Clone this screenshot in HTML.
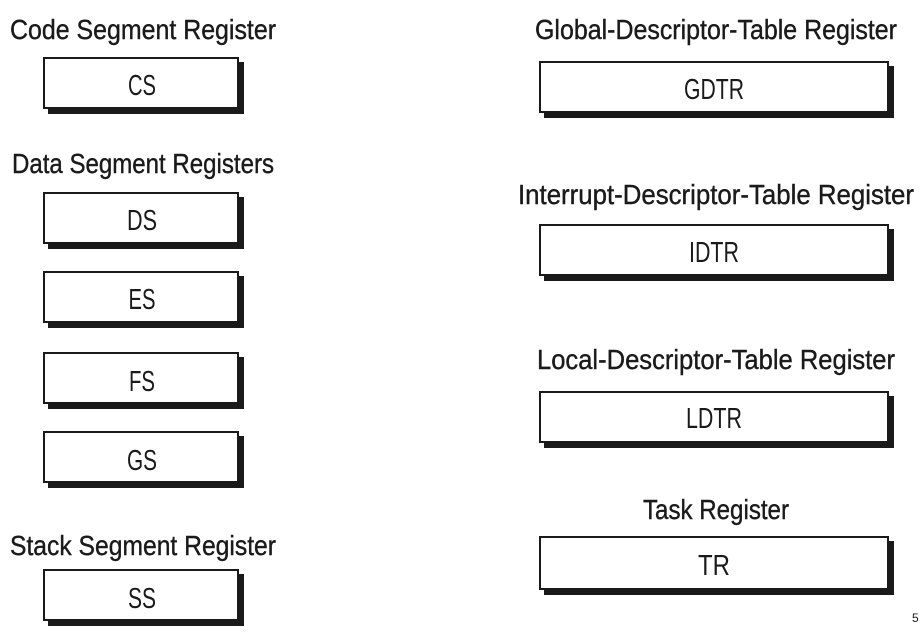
<!DOCTYPE html>
<html><head><style>body{margin:0;background:#fff}svg{display:block}</style></head><body>
<svg width="921" height="638" xmlns="http://www.w3.org/2000/svg" font-family="'Liberation Sans Narrow','Liberation Sans',sans-serif" fill="#1a1a1a">
<g font-size="28" text-anchor="middle" stroke="#1a1a1a" stroke-width="0.4">
<text x="143" y="39" textLength="266" lengthAdjust="spacingAndGlyphs">Code Segment Register</text>
<text x="143" y="173" textLength="262" lengthAdjust="spacingAndGlyphs">Data Segment Registers</text>
<text x="143" y="555" textLength="266" lengthAdjust="spacingAndGlyphs">Stack Segment Register</text>
<text x="716" y="39" textLength="362" lengthAdjust="spacingAndGlyphs">Global-Descriptor-Table Register</text>
<text x="716" y="204" textLength="396" lengthAdjust="spacingAndGlyphs">Interrupt-Descriptor-Table Register</text>
<text x="716" y="369" textLength="358" lengthAdjust="spacingAndGlyphs">Local-Descriptor-Table Register</text>
<text x="716" y="519" textLength="146" lengthAdjust="spacingAndGlyphs">Task Register</text>
</g>
<g stroke="#1a1a1a" stroke-width="2">
<rect x="49" y="63" width="194" height="50"/><rect x="44" y="58" width="194" height="50" fill="#fff"/>
<rect x="49" y="198" width="194" height="50"/><rect x="44" y="193" width="194" height="50" fill="#fff"/>
<rect x="49" y="277" width="194" height="50"/><rect x="44" y="272" width="194" height="50" fill="#fff"/>
<rect x="49" y="358" width="194" height="50"/><rect x="44" y="353" width="194" height="50" fill="#fff"/>
<rect x="49" y="437" width="194" height="50"/><rect x="44" y="432" width="194" height="50" fill="#fff"/>
<rect x="49" y="575" width="194" height="50"/><rect x="44" y="570" width="194" height="50" fill="#fff"/>
<rect x="545" y="67" width="348" height="50"/><rect x="540" y="62" width="348" height="50" fill="#fff"/>
<rect x="545" y="230" width="348" height="50"/><rect x="540" y="225" width="348" height="50" fill="#fff"/>
<rect x="545" y="397" width="348" height="50"/><rect x="540" y="392" width="348" height="50" fill="#fff"/>
<rect x="545" y="542" width="348" height="52"/><rect x="540" y="537" width="348" height="52" fill="#fff"/>
</g>
<g font-size="29" text-anchor="middle">
<text x="142" y="95" textLength="28" lengthAdjust="spacingAndGlyphs">CS</text>
<text x="142" y="230" textLength="30" lengthAdjust="spacingAndGlyphs">DS</text>
<text x="142" y="309" textLength="27" lengthAdjust="spacingAndGlyphs">ES</text>
<text x="142" y="391" textLength="26" lengthAdjust="spacingAndGlyphs">FS</text>
<text x="142" y="470" textLength="30" lengthAdjust="spacingAndGlyphs">GS</text>
<text x="142" y="608" textLength="28" lengthAdjust="spacingAndGlyphs">SS</text>
<text x="714" y="99" textLength="60" lengthAdjust="spacingAndGlyphs">GDTR</text>
<text x="714" y="262" textLength="50" lengthAdjust="spacingAndGlyphs">IDTR</text>
<text x="714" y="428" textLength="56" lengthAdjust="spacingAndGlyphs">LDTR</text>
<text x="714" y="575" textLength="32" lengthAdjust="spacingAndGlyphs">TR</text>
</g>
<text x="912" y="622" font-size="12">5</text>
</svg>
</body></html>
